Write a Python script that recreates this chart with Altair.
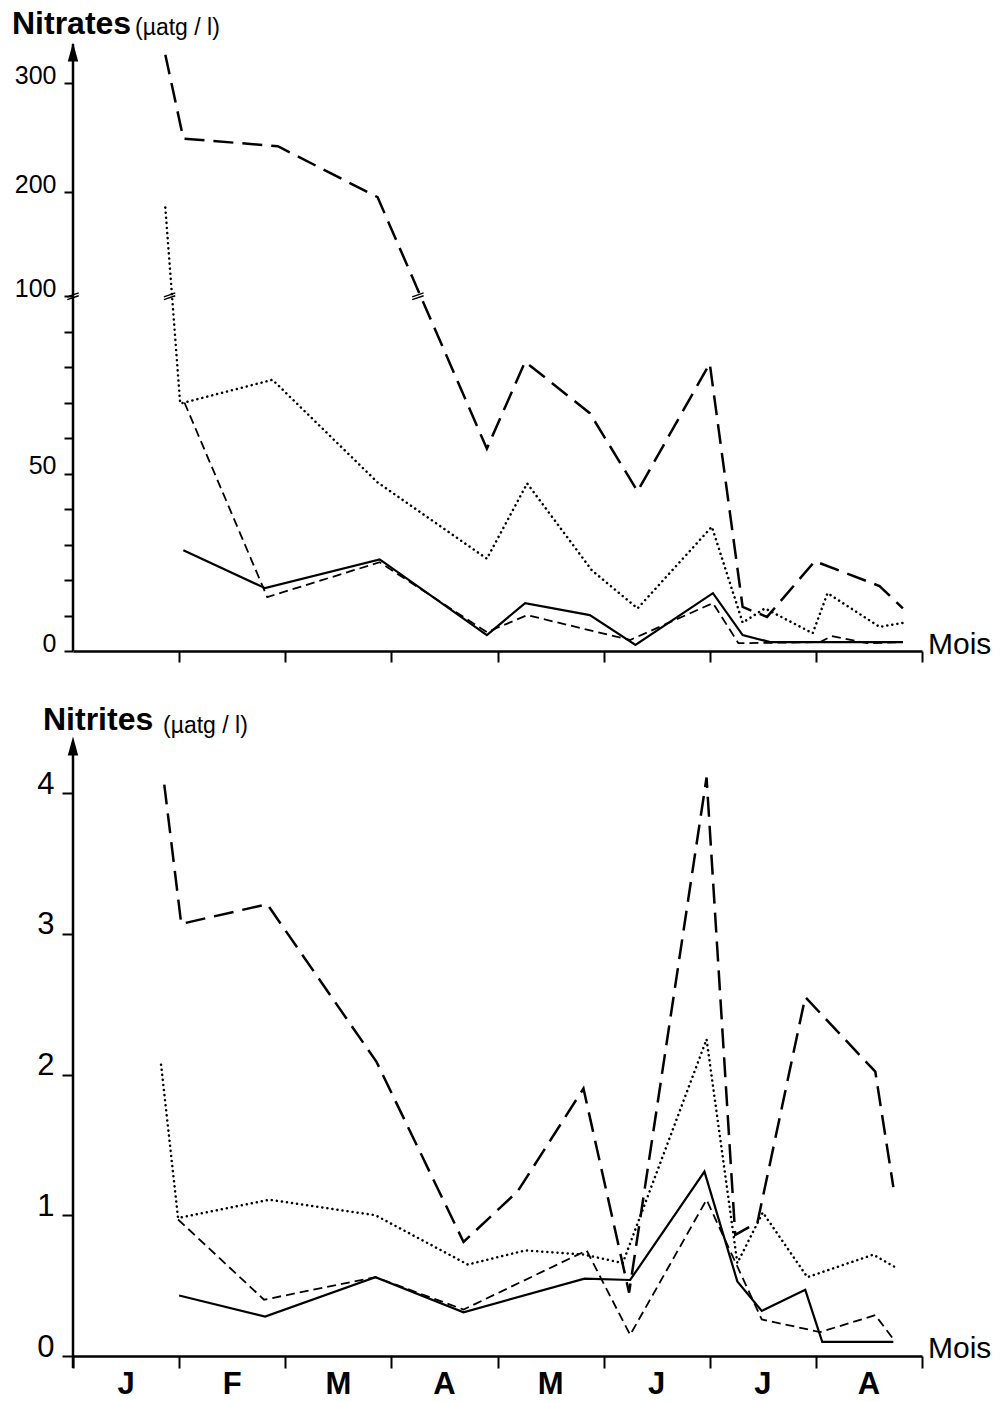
import altair as alt
import pandas as pd

# Position on the time axis: 0 = start of January, 1 unit = 1 month
MOIS = ["J", "F", "M", "A", "M", "J", "J", "A"]
MOIS_CENTRE = [0.5, 1.5, 2.5, 3.5, 4.5, 5.5, 6.5, 7.5]

# ---- Nitrates (µatg/l), four stations ----
no3_tirets_longs_x = [0.87, 1.04, 1.93, 2.87, 3.90, 4.26, 4.87, 5.32, 6.00, 6.31, 6.54, 6.99, 7.60, 7.82]
no3_tirets_longs_y = [326, 249, 242, 195, 57, 81.5, 67, 45, 81, 12.4, 9.6, 25.3, 18.3, 12]
no3_pointilles_x = [0.87, 1.01, 1.88, 2.87, 3.90, 4.28, 4.89, 5.32, 6.02, 6.31, 6.52, 6.97, 7.11, 7.60, 7.82]
no3_pointilles_y = [185, 69.7, 76.4, 47.5, 26, 47.2, 22.7, 12, 35, 8, 12, 5, 16.3, 6.8, 7.9]
no3_tirets_courts_x = [1.05, 1.83, 2.89, 3.90, 4.28, 5.25, 6.03, 6.27, 7.04, 7.15, 7.48, 7.82]
no3_tirets_courts_y = [70, 15.2, 25, 5.3, 10.1, 3.1, 13.5, 2.2, 2.5, 4.2, 2.2, 2.5]
no3_trait_plein_x = [1.04, 1.81, 2.89, 3.90, 4.26, 4.87, 5.30, 6.03, 6.31, 6.57, 7.82]
no3_trait_plein_y = [28.4, 17.7, 25.8, 4.5, 13.5, 10.1, 1.7, 16.3, 4.5, 2.5, 2.5]

# axis break (100) marks: on the axis, the dotted and the long-dashed curve
coupure_x = [0.0, 0.91, 3.25]
coupure_y = [100, 100, 100]

# ---- Nitrites (µatg/l) ----
no2_tirets_longs_x = [0.86, 1.02, 1.83, 2.86, 3.68, 4.19, 4.81, 5.24, 5.97, 6.24, 6.45, 6.90, 7.56, 7.73]
no2_tirets_longs_y = [4.06, 3.07, 3.21, 2.09, 0.81, 1.17, 1.90, 0.45, 4.11, 0.86, 0.95, 2.55, 2.02, 1.20]
no2_pointilles_x = [0.83, 0.99, 1.85, 2.85, 3.72, 4.26, 4.82, 5.18, 5.97, 6.26, 6.50, 6.92, 7.54, 7.75]
no2_pointilles_y = [2.07, 0.98, 1.11, 1.00, 0.65, 0.75, 0.72, 0.66, 2.25, 0.66, 1.02, 0.56, 0.72, 0.63]
no2_tirets_courts_x = [0.99, 1.80, 2.85, 3.68, 4.84, 5.25, 5.97, 6.49, 7.04, 7.56, 7.72]
no2_tirets_courts_y = [0.97, 0.40, 0.56, 0.33, 0.75, 0.15, 1.11, 0.26, 0.17, 0.29, 0.13]
no2_trait_plein_x = [1.00, 1.81, 2.85, 3.68, 4.82, 5.25, 5.95, 6.26, 6.49, 6.90, 7.06, 7.73]
no2_trait_plein_y = [0.43, 0.28, 0.56, 0.31, 0.55, 0.54, 1.31, 0.53, 0.32, 0.47, 0.10, 0.10]

W, H = 849, 1356
FONT = "Liberation Sans"

STYLES = {
    "tirets_longs": dict(strokeDash=[20, 9], strokeWidth=2.5),
    "tirets_courts": dict(strokeDash=[9, 5], strokeWidth=1.8),
    "pointilles": dict(strokeDash=[0.1, 5.0], strokeWidth=2.5, strokeCap="round"),
    "trait_plein": dict(strokeWidth=2.2),
}

one = pd.DataFrame({"k": [0]})

x_top_scale = alt.Scale(domain=[0, 8], nice=False, zero=False)
x_bot_scale = alt.Scale(domain=[0, 8], nice=False, zero=False)

x_top_axis = alt.Axis(orient="bottom", offset=-(H - 651), values=list(range(1, 9)), labels=False,
                      tickSize=11, tickWidth=2, tickColor="black", domainColor="black",
                      domainWidth=2.5, grid=False, title=None)
x_bot_axis = alt.Axis(orient="bottom", values=list(range(0, 9)), labels=False,
                      tickSize=12, tickWidth=2, tickColor="black", domainColor="black",
                      domainWidth=2.5, grid=False, title=None)

# broken nitrate scale: 0-100 stretched, 100-300 compressed
y_top_scale = alt.Scale(domain=[0, 100, 200, 300], range=[651, 296, 192, 83], nice=False, zero=False)
y_top_axis = alt.Axis(orient="left", values=list(range(0, 101, 10)) + [200, 300],
                      labelExpr="(datum.value == 0 || datum.value == 50 || datum.value >= 100) ? datum.label : ''",
                      tickSize=9, tickWidth=2, tickColor="black", domain=False, grid=False,
                      labelFont=FONT, labelFontSize=25, labelColor="black",
                      labelPadding=8, labelBaseline="alphabetic", title=None)

y_bot_scale = alt.Scale(domain=[0, 4], range=[1356, 793], nice=False, zero=False)
y_bot_axis = alt.Axis(orient="left", values=[0, 1, 2, 3, 4], tickSize=11, tickWidth=2,
                      tickColor="black", domain=False, grid=False, labelFont=FONT,
                      labelFontSize=31, labelColor="black", labelPadding=8,
                      labelBaseline="alphabetic", title=None)


def courbe(xs, ys, style, xs_scale, xs_axis, ys_scale, ys_axis):
    df = pd.DataFrame({"mois": xs, "valeur": ys})
    return alt.Chart(df).mark_line(color="black", **STYLES[style]).encode(
        x=alt.X("mois:Q", scale=xs_scale, axis=xs_axis),
        y=alt.Y("valeur:Q", scale=ys_scale, axis=ys_axis),
    )


def cadre(y_top_px, y_bot_px, arrow_y):
    axe = alt.Chart(one).mark_rule(color="black", strokeWidth=2.5).encode(
        x=alt.value(0), y=alt.value(y_top_px), y2=alt.value(y_bot_px))
    fleche = alt.Chart(one).mark_point(
        shape="M0,-1L0.55,1L-0.55,1Z", filled=True, color="black", opacity=1, size=360
    ).encode(x=alt.value(0), y=alt.value(arrow_y))
    return [axe, fleche]


def texte(txt, x, y, size, weight="normal", font=FONT, align="left"):
    return alt.Chart(one).mark_text(
        text=txt, font=font, fontSize=size, fontWeight=weight, align=align,
        baseline="alphabetic", color="black").encode(x=alt.value(x), y=alt.value(y))


# ---------- upper panel: nitrates ----------
top_layers = [
    courbe(no3_tirets_longs_x, no3_tirets_longs_y, "tirets_longs", x_top_scale, x_top_axis, y_top_scale, y_top_axis),
    courbe(no3_pointilles_x, no3_pointilles_y, "pointilles", x_top_scale, x_top_axis, y_top_scale, y_top_axis),
    courbe(no3_tirets_courts_x, no3_tirets_courts_y, "tirets_courts", x_top_scale, x_top_axis, y_top_scale, y_top_axis),
    courbe(no3_trait_plein_x, no3_trait_plein_y, "trait_plein", x_top_scale, x_top_axis, y_top_scale, y_top_axis),
    alt.Chart(pd.DataFrame({"mois": coupure_x, "valeur": coupure_y})).mark_point(
        shape="M-1,0.15L1,-0.55M-1,0.65L1,-0.05", filled=False, color="black",
        strokeWidth=1.4, opacity=1, size=130
    ).encode(
        x=alt.X("mois:Q", scale=x_top_scale, axis=x_top_axis),
        y=alt.Y("valeur:Q", scale=y_top_scale, axis=y_top_axis),
    ),
    *cadre(44, 651, 52),
    texte("Nitrates", -61, 34, 32, weight="bold"),
    texte("(µatg / l)", 62, 35, 23),
    texte("Mois", 855, 654, 30),
]
top = alt.layer(*top_layers)

# ---------- lower panel: nitrites ----------
mois_df = pd.DataFrame({"centre": MOIS_CENTRE, "lettre": MOIS})
bot_layers = [
    courbe(no2_tirets_longs_x, no2_tirets_longs_y, "tirets_longs", x_bot_scale, x_bot_axis, y_bot_scale, y_bot_axis),
    courbe(no2_pointilles_x, no2_pointilles_y, "pointilles", x_bot_scale, x_bot_axis, y_bot_scale, y_bot_axis),
    courbe(no2_tirets_courts_x, no2_tirets_courts_y, "tirets_courts", x_bot_scale, x_bot_axis, y_bot_scale, y_bot_axis),
    courbe(no2_trait_plein_x, no2_trait_plein_y, "trait_plein", x_bot_scale, x_bot_axis, y_bot_scale, y_bot_axis),
    alt.Chart(mois_df).mark_text(font=FONT, fontSize=31, fontWeight="bold", baseline="alphabetic",
                                 align="center", color="black").encode(
        x=alt.X("centre:Q", scale=x_bot_scale, axis=x_bot_axis),
        y=alt.value(1394),
        text="lettre:N",
    ),
    *cadre(744, 1368, 746),
    texte("Nitrites", -30, 730, 32, weight="bold"),
    texte("(µatg / l)", 90, 733, 23),
    texte("Mois", 855, 1358, 30),
]
bottom = alt.layer(*bot_layers)

chart = alt.layer(top, bottom).resolve_scale(
    x="independent", y="independent"
).properties(
    width=W, height=H,
    autosize=alt.AutoSizeParams(type="none"),
    padding={"left": 73, "top": 0, "right": 83, "bottom": 46},
    background="white",
).configure_view(stroke=None)

chart.save("out.html", embed_options={"renderer": "svg", "actions": False})
